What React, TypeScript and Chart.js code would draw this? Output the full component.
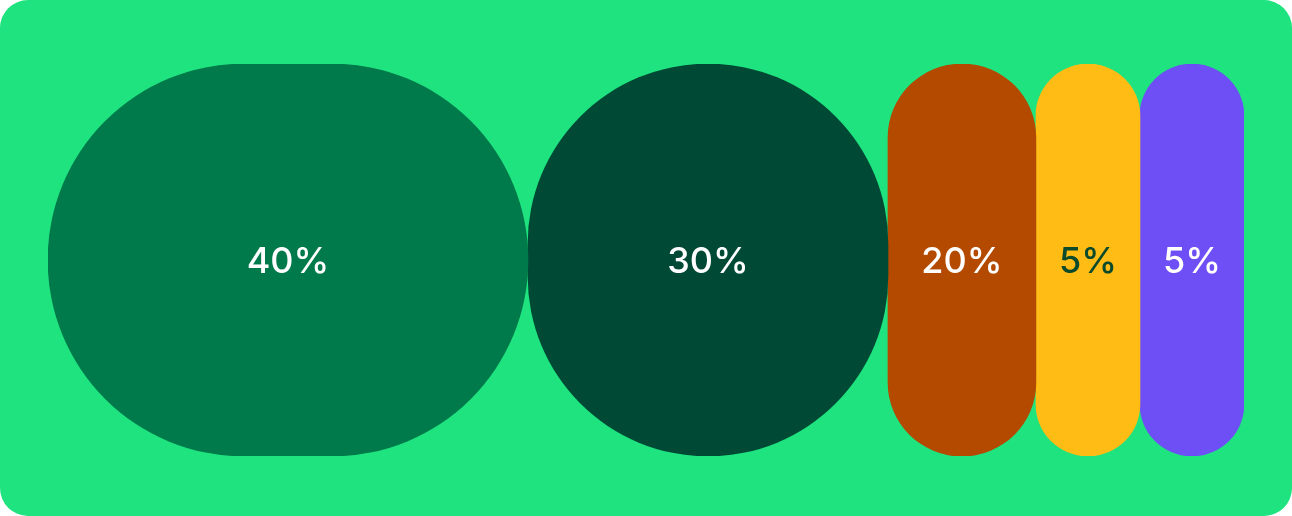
import React, { useEffect, useRef } from "react";
import { Chart, registerables } from "chart.js";

Chart.register(...registerables);

// Share labels shown inside each segment
const shareLabels = ["40%", "30%", "20%", "5%", "5%"];
// Visible segment lengths (axis units; small shares are drawn with a minimum width)
const segmentLengths = [40, 30, 12.33, 8.67, 8.67];
// Segment fill colours
const segmentColors = ["#007a4a", "#004a35", "#b34a00", "#ffbc15", "#6e4ff5"];
// Label text colours
const labelColors = ["#ffffff", "#ffffff", "#ffffff", "#0b4a2a", "#ffffff"];
const rowLabels = ["share"];

export default function App() {
  const ref = useRef<HTMLCanvasElement | null>(null);

  useEffect(() => {
    if (!ref.current) return;
    let start = 0;
    const datasets = segmentLengths.map((len, i) => {
      const range: [number, number] = [start, start + len];
      start += len;
      return {
        label: shareLabels[i],
        data: [range],
        backgroundColor: segmentColors[i],
        borderWidth: 0,
        borderRadius: 1000,
        borderSkipped: false as const,
        grouped: false,
        barPercentage: 1,
        categoryPercentage: 1,
      };
    });
    const total = start;

    const labelPlugin = {
      id: "segmentLabels",
      afterDatasetsDraw(chart: any) {
        const ctx = chart.ctx;
        ctx.save();
        ctx.font = "500 36px Inter, 'Open Sans', sans-serif";
        ctx.textAlign = "center";
        ctx.textBaseline = "alphabetic";
        chart.data.datasets.forEach((ds: any, i: number) => {
          const el = chart.getDatasetMeta(i).data[0] as any;
          if (!el) return;
          const cx = (el.x + el.base) / 2;
          const cy = el.y;
          ctx.fillStyle = labelColors[i];
          ctx.fillText(shareLabels[i], cx, cy + 13);
        });
        ctx.restore();
      },
    };

    const chart = new Chart(ref.current, {
      type: "bar",
      data: { labels: rowLabels, datasets: datasets as any },
      options: {
        indexAxis: "y",
        responsive: false,
        animation: false,
        devicePixelRatio: 1,
        layout: { padding: { left: 48, right: 48, top: 64, bottom: 60 } },
        scales: {
          x: { type: "linear", min: 0, max: total, display: false },
          y: { display: false },
        },
        plugins: {
          legend: { display: false },
          tooltip: { enabled: false },
        },
      },
      plugins: [labelPlugin],
    });
    return () => chart.destroy();
  }, []);

  return (
    <div
      style={{
        position: "absolute",
        left: 0,
        top: 0,
        width: 1292,
        height: 516,
        background: "#1ee37f",
        borderRadius: 28,
        overflow: "hidden",
      }}
    >
      <canvas ref={ref} width={1292} height={516} style={{ display: "block", width: 1292, height: 516 }} />
    </div>
  );
}
